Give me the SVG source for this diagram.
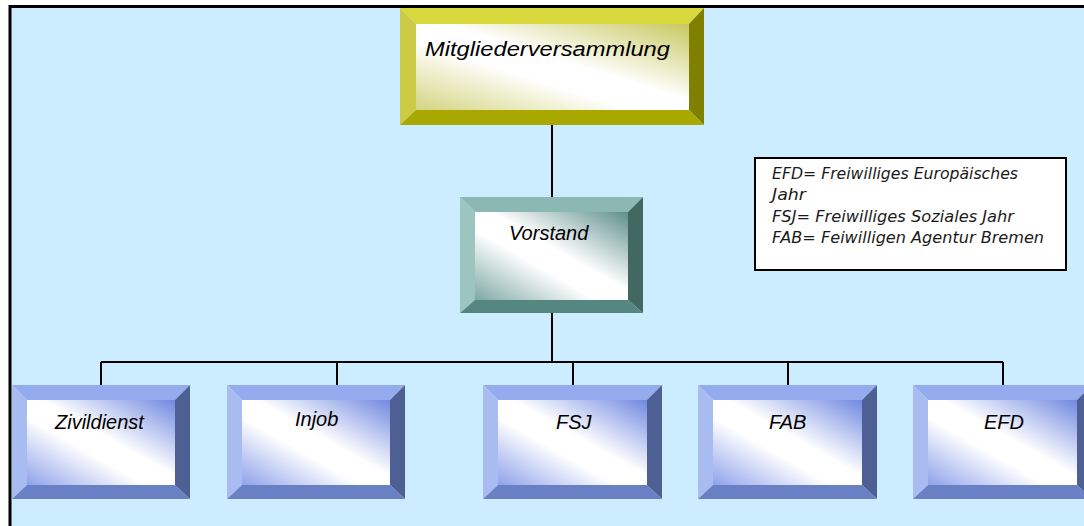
<svg xmlns="http://www.w3.org/2000/svg" width="1084" height="526" viewBox="0 0 1084 526">
<defs>
<linearGradient id="gY" x1="1" y1="0" x2="0" y2="1"><stop offset="0" stop-color="#C8C860"/><stop offset="0.45" stop-color="#FFFFFF"/><stop offset="0.6" stop-color="#FFFFFF"/><stop offset="1" stop-color="#D4D480"/></linearGradient>
<linearGradient id="gT" x1="1" y1="0" x2="0" y2="1"><stop offset="0" stop-color="#5F8F8A"/><stop offset="0.45" stop-color="#FFFFFF"/><stop offset="0.6" stop-color="#FFFFFF"/><stop offset="1" stop-color="#7FA8A4"/></linearGradient>
<linearGradient id="gB" x1="1" y1="0" x2="0" y2="1"><stop offset="0" stop-color="#7088E0"/><stop offset="0.45" stop-color="#FFFFFF"/><stop offset="0.6" stop-color="#FFFFFF"/><stop offset="1" stop-color="#8FA2EA"/></linearGradient>
</defs>
<style>
.lbl{font-family:"Liberation Sans",Arial,sans-serif;font-style:italic;font-size:20px;fill:#000}
.leg{font-family:"DejaVu Sans","Liberation Sans",sans-serif;font-style:italic;font-size:15px;fill:#1a1a1a}
.con{stroke:#000;stroke-width:2;fill:none}
.yT{fill:#D8D83C}.yL{fill:#CBCB45}.yR{fill:#7F7F00}.yB{fill:#A8A800}
.tT{fill:#8BB8B2}.tL{fill:#9DC5C0}.tR{fill:#426862}.tB{fill:#568680}
.bT{fill:#94ACEE}.bL{fill:#A9BCF2}.bR{fill:#4D5F93}.bB{fill:#6A80C4}
</style>
<rect x="10" y="6.5" width="1090" height="540" fill="#CCECFF" stroke="#000" stroke-width="3"/>
<g id="connectors">
<path class="con" d="M552 125V197M552 313V362M101 362H1003M101 362V385M337 362V385M573 362V385M788 362V385M1003 362V385"/>
</g>
<g id="legend">
<rect x="755" y="158" width="311" height="112" fill="#FFFFFF" stroke="#000" stroke-width="2"/>
<text class="leg" x="772" y="179" textLength="246" lengthAdjust="spacingAndGlyphs">EFD= Freiwilliges Europäisches</text>
<text class="leg" x="772" y="200" textLength="34" lengthAdjust="spacingAndGlyphs">Jahr</text>
<text class="leg" x="772" y="221.5" textLength="242" lengthAdjust="spacingAndGlyphs">FSJ= Freiwilliges Soziales Jahr</text>
<text class="leg" x="772" y="243" textLength="272" lengthAdjust="spacingAndGlyphs">FAB= Feiwilligen Agentur Bremen</text>
</g>
<g id="mitgliederversammlung">
<polygon class="yT" points="400,8 704,8 689,24 416,24"/>
<polygon class="yL" points="400,8 416,24 416,110 400,125"/>
<polygon class="yR" points="704,8 704,125 689,110 689,24"/>
<polygon class="yB" points="400,125 704,125 689,110 416,110"/>
<rect x="416" y="24" width="273" height="86" fill="url(#gY)"/>
<text class="lbl" x="425" y="56" font-size="21" textLength="245" lengthAdjust="spacingAndGlyphs">Mitgliederversammlung</text>
</g>
<g id="vorstand">
<polygon class="tT" points="460,197 643,197 628,212 475,212"/>
<polygon class="tL" points="460,197 475,212 475,300 460,313"/>
<polygon class="tR" points="643,197 643,313 628,300 628,212"/>
<polygon class="tB" points="460,313 643,313 628,300 475,300"/>
<rect x="475" y="212" width="153" height="88" fill="url(#gT)"/>
<text class="lbl" x="509" y="240">Vorstand</text>
</g>
<g id="zivildienst">
<polygon class="bT" points="12,385 190,385 175,400 27,400"/>
<polygon class="bL" points="12,385 27,400 27,485 12,499"/>
<polygon class="bR" points="190,385 190,499 175,485 175,400"/>
<polygon class="bB" points="12,499 190,499 175,485 27,485"/>
<rect x="27" y="400" width="148" height="85" fill="url(#gB)"/>
<text class="lbl" x="55" y="429">Zivildienst</text>
</g>
<g id="injob">
<polygon class="bT" points="227,385 405,385 390,400 242,400"/>
<polygon class="bL" points="227,385 242,400 242,485 227,499"/>
<polygon class="bR" points="405,385 405,499 390,485 390,400"/>
<polygon class="bB" points="227,499 405,499 390,485 242,485"/>
<rect x="242" y="400" width="148" height="85" fill="url(#gB)"/>
<text class="lbl" x="295" y="426">Injob</text>
</g>
<g id="fsj">
<polygon class="bT" points="483,385 662,385 647,400 498,400"/>
<polygon class="bL" points="483,385 498,400 498,485 483,499"/>
<polygon class="bR" points="662,385 662,499 647,485 647,400"/>
<polygon class="bB" points="483,499 662,499 647,485 498,485"/>
<rect x="498" y="400" width="149" height="85" fill="url(#gB)"/>
<text class="lbl" x="556" y="429">FSJ</text>
</g>
<g id="fab">
<polygon class="bT" points="698,385 877,385 862,400 713,400"/>
<polygon class="bL" points="698,385 713,400 713,485 698,499"/>
<polygon class="bR" points="877,385 877,499 862,485 862,400"/>
<polygon class="bB" points="698,499 877,499 862,485 713,485"/>
<rect x="713" y="400" width="149" height="85" fill="url(#gB)"/>
<text class="lbl" x="769" y="429">FAB</text>
</g>
<g id="efd">
<polygon class="bT" points="913,385 1092,385 1077,400 928,400"/>
<polygon class="bL" points="913,385 928,400 928,485 913,499"/>
<polygon class="bR" points="1092,385 1092,499 1077,485 1077,400"/>
<polygon class="bB" points="913,499 1092,499 1077,485 928,485"/>
<rect x="928" y="400" width="149" height="85" fill="url(#gB)"/>
<text class="lbl" x="984" y="429">EFD</text>
</g>
</svg>
